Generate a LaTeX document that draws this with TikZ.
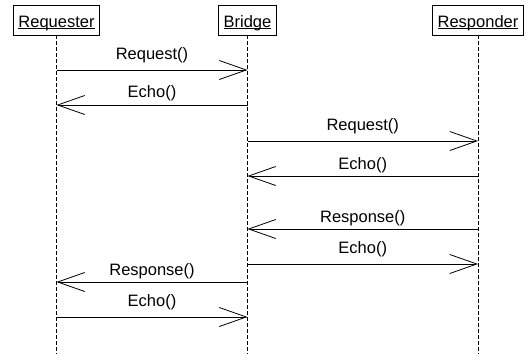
\documentclass[tikz,border=0pt]{standalone}
\usepackage{fontspec}
\setmainfont{Liberation Sans}
\usetikzlibrary{arrows.meta}

% underline that ignores the descenders
\newcommand{\objname}[1]{\underline{\raisebox{0pt}[\height][0pt]{#1}}}

\tikzset{
  object/.style={draw, fill=white, line width=0.8pt, inner xsep=5pt,
    inner ysep=0pt, text height=22pt, text depth=8pt, anchor=base,
    font=\fontsize{16.5}{20}\selectfont},
  lifeline/.style={line width=0.7pt, dash pattern=on 4pt off 2pt},
  message/.style={line width=0.8pt, -{Straight Barb[length=27pt,width=19pt,line width=0.8pt]}},
  msglabel/.style={midway, anchor=base, yshift=#1, inner sep=0pt,
    font=\fontsize{16.5}{20}\selectfont},
  msglabel/.default=11pt
}

\begin{document}
\begin{tikzpicture}[x=1pt,y=-1pt]
\useasboundingbox (0,0) rectangle (531,354);
% OBJECTS
\node[object] (requester) at (56.5,27) {\objname{Requester}};
\node[object] (bridge)    at (247.5,27) {\objname{Bridge}};
\node[object] (responder) at (478,27) {\objname{Responder}};

% LIFELINES
\coordinate (requester end) at (56.5,354);
\coordinate (bridge end)    at (247.5,354);
\coordinate (responder end) at (478,354);
\draw[lifeline] (requester.south) -- (requester end);
\draw[lifeline] (bridge.south) -- (bridge end);
\draw[lifeline] (responder.south) -- (responder end);

% POINTS ON THE LIFELINES
\coordinate (rq1) at (56.5,70);   \coordinate (br1) at (247.5,70);
\coordinate (rq2) at (56.5,105);  \coordinate (br2) at (247.5,105);
\coordinate (br3) at (247.5,141); \coordinate (rs3) at (478,141);
\coordinate (br4) at (247.5,176); \coordinate (rs4) at (478,176);
\coordinate (br5) at (247.5,229); \coordinate (rs5) at (478,229);
\coordinate (br6) at (247.5,264); \coordinate (rs6) at (478,264);
\coordinate (rq7) at (56.5,282);  \coordinate (br7) at (247.5,282);
\coordinate (rq8) at (56.5,317);  \coordinate (br8) at (247.5,317);

% MESSAGES
\draw[message] (rq1) -- (br1) node[msglabel] {Request()};
\draw[message] (br2) -- (rq2) node[msglabel=8pt] {Echo()};

\draw[message] (br3) -- (rs3) node[msglabel] {Request()};
\draw[message] (rs4) -- (br4) node[msglabel=7pt] {Echo()};

\draw[message] (rs5) -- (br5) node[msglabel=7pt] {Response()};
\draw[message] (br6) -- (rs6) node[msglabel] {Echo()};

\draw[message] (br7) -- (rq7) node[msglabel=7pt] {Response()};
\draw[message] (rq8) -- (br8) node[msglabel] {Echo()};
\end{tikzpicture}
\end{document}
